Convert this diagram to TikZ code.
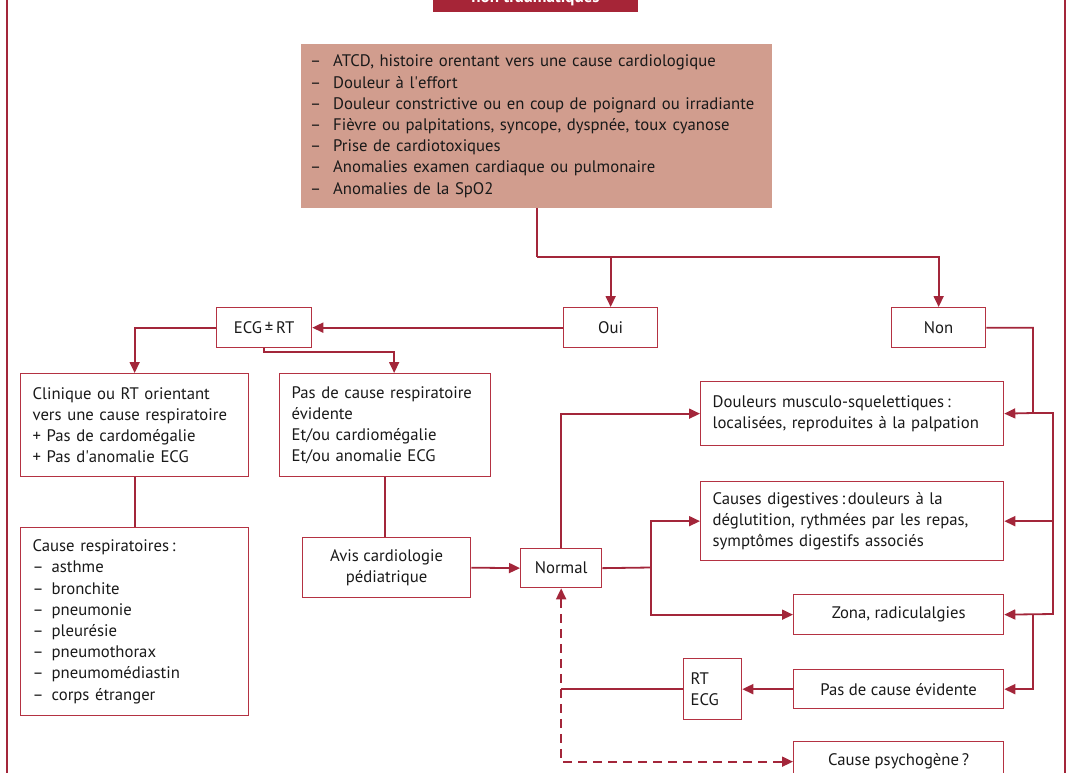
\documentclass[tikz,border=0pt]{standalone}
\usepackage{fontspec}
\setmainfont{PT Sans}
\usetikzlibrary{arrows.meta}
\definecolor{framered}{RGB}{163,38,58}
\definecolor{boxline}{RGB}{180,50,66}
\definecolor{salmon}{RGB}{209,157,142}
\definecolor{titlered}{RGB}{166,37,55}
\definecolor{ink}{RGB}{25,25,25}
\newcommand{\dashitem}[1]{\makebox[23pt][l]{–}#1}
\newcommand{\ditem}[1]{\makebox[19pt][l]{–}#1}
\newcommand{\apos}{\textquotesingle}
\begin{document}
\begin{tikzpicture}[x=1pt,y=-1pt,
  txt/.style={font=\fontsize{16.7}{21.2}\selectfont, text=ink},
  box/.style={txt, draw=boxline, line width=1.3pt, anchor=north west, inner sep=0pt},
  conn/.style={draw=framered, line width=1.8pt},
  arr/.style={conn, -{Triangle[length=11pt,width=10pt]}},
]
\useasboundingbox (0,0) rectangle (1072,772);
% outer frame
\draw[framered, line width=1.5pt] (7,-20) rectangle (1065,800);
% title
\node (title) [fill=titlered, text=white, font=\fontsize{17}{18}\bfseries\selectfont,
  anchor=south, minimum width=205pt, inner sep=0pt, text depth=9pt, text height=30pt]
  at (535.5,12) {non traumatiques};
% criteria box
\node (crit) [txt, fill=salmon, anchor=north west, minimum width=471pt, minimum height=164pt,
  inner xsep=9pt, inner ysep=0pt, text width=453pt, align=left] at (301,44)
  {\dashitem{ATCD, histoire orentant vers une cause cardiologique}\\
   \dashitem{Douleur à l\apos effort}\\
   \dashitem{Douleur constrictive ou en coup de poignard ou irradiante}\\
   \dashitem{Fièvre ou palpitations, syncope, dyspnée, toux cyanose}\\
   \dashitem{Prise de cardiotoxiques}\\
   \dashitem{Anomalies examen cardiaque ou pulmonaire}\\
   \dashitem{Anomalies de la SpO2}};
% oui / non
\node (oui) [box, minimum width=94pt, minimum height=40pt] at (563,307) {Oui};
\node (non) [box, minimum width=94pt, minimum height=40pt] at (891,307) {Non};
\node (ecg) [box, minimum width=95pt, minimum height=40pt] at (216,307) {ECG\,±\,RT};
% left column
\node (clin) [box, minimum width=228pt, minimum height=103pt, text width=204pt, align=left,
  inner xsep=12pt] at (20,373)
  {Clinique ou RT orientant\\vers une cause respiratoire\\+ Pas de cardomégalie\\+ Pas d\apos anomalie ECG};
\node (pasresp) [box, minimum width=211pt, minimum height=103pt, text width=187pt, align=left,
  inner xsep=12pt] at (279,373)
  {Pas de cause respiratoire\\évidente\\Et/ou cardiomégalie\\Et/ou anomalie ECG};
\node (causes) [box, minimum width=228pt, minimum height=188pt, text width=204pt, align=left,
  inner xsep=12pt] at (20,527)
  {Cause respiratoires\,:\\\ditem{asthme}\\\ditem{bronchite}\\\ditem{pneumonie}\\\ditem{pleurésie}\\\ditem{pneumothorax}\\\ditem{pneumomédiastin}\\\ditem{corps étranger}};
\node (avis) [box, minimum width=168pt, minimum height=60pt, align=center] at (302,537)
  {Avis cardiologie\\pédiatrique};
\node (normal) [box, minimum width=81pt, minimum height=39pt] at (520,548) {Normal};
% right column
\node (doul) [box, minimum width=303pt, minimum height=64pt, text width=279pt, align=left,
  inner xsep=12pt] at (700,381)
  {Douleurs musculo-squelettiques\,:\\localisées, reproduites à la palpation};
\node (dig) [box, minimum width=303pt, minimum height=79pt, text width=279pt, align=left,
  inner xsep=12pt] at (700,481)
  {Causes digestives\,:\,douleurs à la\\déglutition, rythmées par les repas,\\symptômes digestifs associés};
\node (zona) [box, minimum width=210pt, minimum height=40pt] at (793,594) {Zona, radiculalgies};
\node (pasev) [box, minimum width=210pt, minimum height=39pt] at (793,669) {Pas de cause évidente};
\node (rtecg) [box, minimum width=58pt, minimum height=61pt, text width=44pt, align=left,
  inner xsep=7pt] at (683,658) {RT\\ECG};
\node (psy) [box, minimum width=210pt, minimum height=40pt] at (793,741) {Cause psychogène\,?};
% connectors
\coordinate (split) at (crit.south |- 0,257);
\draw[conn] (crit.south) -- (split);
\draw[arr] (split) -| (oui.north);
\draw[arr] (split) -| (non.north);
\draw[arr] (oui.west) -- (ecg.east);
\draw[arr] (ecg.west) -| (clin.north);
\draw[arr] (ecg.south) -- ++(0,4) -| ([xshift=9pt]pasresp.north);
\draw[conn] (clin.south) -- (causes.north);
\draw[conn] (pasresp.south) -- (pasresp.south |- avis.north);
\draw[arr] (avis.east) -- (normal.west);
\draw[arr] (normal.north) |- (doul.west);
\coordinate (nj) at (651,567.5);
\draw[conn] (normal.east) -- (nj);
\draw[arr] (nj) |- (dig.west);
\draw[arr] (nj) |- (zona.west);
\coordinate (r1) at (1033,413);
\coordinate (r2) at (1053,413);
\coordinate (r3) at (1053,614);
\coordinate (r4) at (1033,614);
\draw[arr] (non.east) -| (r1) -- (doul.east);
\draw[arr] (r1) -- (r2) -- (r3) -- (zona.east);
\draw[arr] (r2 |- dig.east) -- (dig.east);
\draw[arr] (r4) |- (pasev.east);
\draw[arr] (pasev.west) -- (rtecg.east);
\draw[conn] (rtecg.west) -- (rtecg.west -| normal.south);
\draw[conn, dash pattern=on 9pt off 6pt, {Triangle[length=11pt,width=10pt]}-{Triangle[length=11pt,width=10pt]}]
  (normal.south) |- (psy.west);
\end{tikzpicture}
\end{document}
